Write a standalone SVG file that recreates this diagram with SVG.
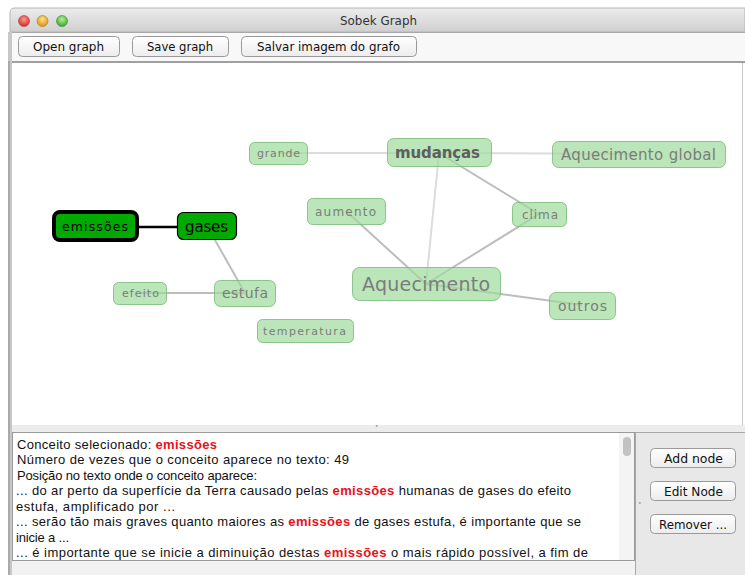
<svg xmlns="http://www.w3.org/2000/svg" width="745" height="575" viewBox="0 0 745 575">
<defs>
<linearGradient id="tb" x1="0" y1="0" x2="0" y2="1"><stop offset="0" stop-color="#ececec"/><stop offset="1" stop-color="#cfcfcf"/></linearGradient>
<linearGradient id="btn" x1="0" y1="0" x2="0" y2="1"><stop offset="0" stop-color="#ffffff"/><stop offset="1" stop-color="#ececec"/></linearGradient>
<radialGradient id="red" cx="0.5" cy="0.35" r="0.6"><stop offset="0" stop-color="#ff9a90"/><stop offset="1" stop-color="#d8322a"/></radialGradient>
<radialGradient id="yel" cx="0.5" cy="0.35" r="0.6"><stop offset="0" stop-color="#ffe08a"/><stop offset="1" stop-color="#dc9a1c"/></radialGradient>
<radialGradient id="grn" cx="0.5" cy="0.35" r="0.6"><stop offset="0" stop-color="#b6f0a0"/><stop offset="1" stop-color="#3fae2e"/></radialGradient>
</defs>
<style>
.ui{font-family:"DejaVu Sans","Liberation Sans",sans-serif;font-size:12.5px;fill:#111}
.btn{fill:url(#btn);stroke:#9a9a9a;stroke-width:1}
.txt{font-family:"Liberation Sans","DejaVu Sans",sans-serif;font-size:13px;fill:#111}
.hl{fill:#e8101a;font-weight:bold}
.node rect{fill:#9ddc9b;fill-opacity:0.7;stroke:#78b878;stroke-opacity:0.8;stroke-width:1}
.node text{font-family:"DejaVu Sans","Liberation Sans",sans-serif;fill:#7c7c7c;text-anchor:start}
.edge{stroke:#bdbdbd;stroke-width:2;fill:none}
.edge.light{stroke:#dcdcdc}
</style>
<rect x="0" y="0" width="745" height="575" fill="#ffffff"/>
<!-- window chrome -->
<path d="M10 32 V13 Q10 8 15 8 H745 V32 Z" fill="url(#tb)" stroke="#b5b5b5" stroke-width="1"/>
<circle cx="24" cy="21" r="5.5" fill="url(#red)" stroke="#a8403a" stroke-width="0.6"/>
<circle cx="42.5" cy="21" r="5.5" fill="url(#yel)" stroke="#a87820" stroke-width="0.6"/>
<circle cx="62" cy="21" r="5.5" fill="url(#grn)" stroke="#3b8a2c" stroke-width="0.6"/>
<text class="ui" x="340" y="25" textLength="77" lengthAdjust="spacingAndGlyphs" style="fill:#333">Sobek Graph</text>
<rect x="10" y="32" width="735" height="29" fill="#f8f8f8"/>
<line x1="10" y1="32.5" x2="745" y2="32.5" stroke="#a8a8a8"/>
<g id="btn-open"><rect class="btn" x="18.5" y="36.5" width="101" height="20" rx="4"/><text class="ui" x="33" y="51" textLength="71" lengthAdjust="spacingAndGlyphs">Open graph</text></g>
<g id="btn-save"><rect class="btn" x="132.5" y="36.5" width="96" height="20" rx="4"/><text class="ui" x="147" y="51" textLength="66" lengthAdjust="spacingAndGlyphs">Save graph</text></g>
<g id="btn-salvar"><rect class="btn" x="241.5" y="36.5" width="175" height="20" rx="4"/><text class="ui" x="257" y="51" textLength="143" lengthAdjust="spacingAndGlyphs">Salvar imagem do grafo</text></g>
<rect x="10" y="61" width="735" height="2" fill="#a0a0a0"/>
<rect x="8" y="32" width="4" height="543" fill="#c8c8c8"/>
<line x1="9" y1="61" x2="9" y2="575" stroke="#8a8a8a" stroke-width="1"/>
<!-- graph panel -->
<rect x="12" y="63" width="731" height="362" fill="#ffffff"/>
<line x1="742.5" y1="63" x2="742.5" y2="425" stroke="#c8c8c8"/>
<!-- divider -->
<rect x="12" y="425" width="733" height="7" fill="#ececec"/>
<text x="375" y="431" font-family="DejaVu Sans, sans-serif" font-size="7" fill="#777">˚</text>
<!-- connectors -->
<g id="connectors">
<line class="edge light" x1="278" y1="153" x2="439" y2="153"/>
<line class="edge light" x1="439" y1="153" x2="639" y2="154"/>
<line class="edge" x1="439" y1="153" x2="539" y2="214"/>
<line class="edge light" x1="439" y1="153" x2="426" y2="284"/>
<line class="edge" x1="346" y1="211" x2="426" y2="284"/>
<line class="edge" x1="539" y1="214" x2="426" y2="284"/>
<line class="edge" x1="426" y1="284" x2="582" y2="305"/>
<line class="edge" x1="207" y1="226" x2="245" y2="293"/>
<line class="edge" x1="140" y1="293" x2="245" y2="293"/>
<line x1="135" y1="227" x2="180" y2="227" stroke="#000" stroke-width="2.5"/>
</g>
<!-- nodes -->
<g id="node-grande" class="node"><rect x="249.5" y="142.5" width="58" height="22" rx="5"/><text x="257" y="157" font-size="11" textLength="43" lengthAdjust="spacing">grande</text></g>
<g id="node-mudancas" class="node"><rect x="387.5" y="138.5" width="104" height="28" rx="6"/><text x="395" y="158" font-size="15" font-weight="bold" textLength="85" lengthAdjust="spacing" style="fill:#5e5e5e">mudanças</text></g>
<g id="node-aquecimento-global" class="node"><rect x="552.5" y="141.5" width="173" height="26" rx="6"/><text x="561" y="159.5" font-size="15" textLength="155" lengthAdjust="spacing">Aquecimento global</text></g>
<g id="node-aumento" class="node"><rect x="307.5" y="198.5" width="78" height="26" rx="5"/><text x="315" y="215.5" font-size="12" textLength="61" lengthAdjust="spacing">aumento</text></g>
<g id="node-clima" class="node"><rect x="512.5" y="202.5" width="54" height="24" rx="5"/><text x="522" y="218.5" font-size="12" textLength="36" lengthAdjust="spacing">clima</text></g>
<g id="node-aquecimento" class="node"><rect x="352.5" y="267.5" width="148" height="33" rx="7"/><text x="362" y="291" font-size="19" textLength="128" lengthAdjust="spacing">Aquecimento</text></g>
<g id="node-outros" class="node"><rect x="549.5" y="292.5" width="66" height="27" rx="6"/><text x="558" y="311" font-size="14" textLength="49" lengthAdjust="spacing">outros</text></g>
<g id="node-efeito" class="node"><rect x="113.5" y="282.5" width="53" height="22" rx="5"/><text x="122" y="297" font-size="11" textLength="37" lengthAdjust="spacing">efeito</text></g>
<g id="node-estufa" class="node"><rect x="214.5" y="280.5" width="61" height="26" rx="6"/><text x="222" y="298" font-size="14" textLength="46" lengthAdjust="spacing">estufa</text></g>
<g id="node-temperatura" class="node"><rect x="257.5" y="319.5" width="96" height="23" rx="5"/><text x="263" y="335" font-size="11" textLength="83" lengthAdjust="spacing">temperatura</text></g>
<g id="node-emissoes"><rect x="54" y="212" width="83" height="28" rx="6" fill="#00aa00" stroke="#000" stroke-width="4"/><text x="62" y="231" font-family="DejaVu Sans, sans-serif" font-size="12.5" fill="#000" textLength="66" lengthAdjust="spacing">emissões</text></g>
<g id="node-gases"><rect x="177.5" y="212.5" width="59" height="27" rx="6" fill="#00aa00" stroke="#000" stroke-width="1.2"/><text x="185" y="232" font-family="DejaVu Sans, sans-serif" font-size="15" fill="#000" textLength="43" lengthAdjust="spacing">gases</text></g>
<!-- text panel -->
<rect x="12" y="432" width="623" height="128" fill="#ffffff"/>
<rect x="12.5" y="432.5" width="622" height="128" fill="none" stroke="#9a9a9a"/>
<rect x="619" y="433" width="15" height="127" fill="#f4f4f4"/>
<rect x="623" y="437" width="8" height="19" rx="4" fill="#c2c2c2"/>
<rect x="12" y="561" width="623" height="14" fill="#f2f2f2"/>
<g id="text-panel">
<text class="txt" x="17" y="448.5" textLength="200" lengthAdjust="spacing">Conceito selecionado: <tspan class="hl">emissões</tspan></text>
<text class="txt" x="17" y="464" textLength="332" lengthAdjust="spacing">Número de vezes que o conceito aparece no texto: 49</text>
<text class="txt" x="17" y="479.5" textLength="240" lengthAdjust="spacing">Posição no texto onde o conceito aparece:</text>
<text class="txt" x="16" y="495" textLength="555" lengthAdjust="spacing">...  do ar perto da superfície da Terra causado pelas <tspan class="hl">emissões</tspan> humanas de gases do efeito</text>
<text class="txt" x="16" y="510.5" textLength="159" lengthAdjust="spacing">estufa, amplificado por ...</text>
<text class="txt" x="16" y="526" textLength="565" lengthAdjust="spacing">...  serão tão mais graves quanto maiores as <tspan class="hl">emissões</tspan> de gases estufa, é importante que se</text>
<text class="txt" x="16" y="541.5" textLength="53" lengthAdjust="spacing">inicie a ...</text>
<text class="txt" x="16" y="557" textLength="572" lengthAdjust="spacing">...  é importante que se inicie a diminuição destas <tspan class="hl">emissões</tspan> o mais rápido possível, a fim de</text>
</g>
<!-- right panel -->
<rect x="635" y="432" width="110" height="143" fill="#e8e8e8"/>
<line x1="635.5" y1="432" x2="635.5" y2="575" stroke="#a8a8a8"/>
<line x1="635" y1="432.5" x2="745" y2="432.5" stroke="#a8a8a8"/>
<text x="638" y="508" font-family="DejaVu Sans, sans-serif" font-size="7" fill="#777">˚</text>
<g id="btn-add"><rect class="btn" x="650.5" y="448.5" width="85" height="19" rx="4"/><text class="ui" x="664" y="462.5" textLength="59" lengthAdjust="spacingAndGlyphs">Add node</text></g>
<g id="btn-edit"><rect class="btn" x="650.5" y="481.5" width="85" height="19" rx="4"/><text class="ui" x="664" y="495.5" textLength="59" lengthAdjust="spacingAndGlyphs">Edit Node</text></g>
<g id="btn-remove"><rect class="btn" x="650.5" y="514.5" width="85" height="19" rx="4"/><text class="ui" x="659" y="528.5" textLength="68" lengthAdjust="spacingAndGlyphs">Remover ...</text></g>
</svg>
